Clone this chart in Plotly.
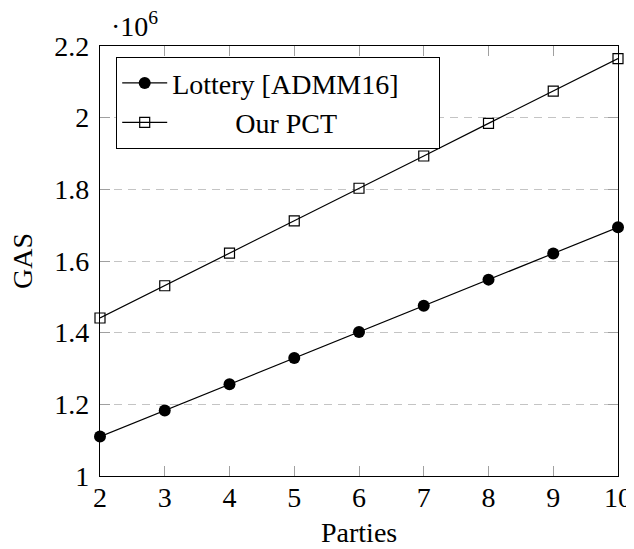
import plotly.graph_objects as go

parties = [2, 3, 4, 5, 6, 7, 8, 9, 10]
lottery_gas = [1.110, 1.183, 1.256, 1.329, 1.402, 1.475, 1.548, 1.621, 1.694]  # x10^6
pct_gas = [1.441, 1.531, 1.622, 1.712, 1.803, 1.893, 1.984, 2.074, 2.165]      # x10^6
series_names = ["Lottery [ADMM16]" + "\u00a0" * 5, "\u00a0" * 9 + "Our PCT"]
y_ticks = [1.0, 1.2, 1.4, 1.6, 1.8, 2.0, 2.2]
y_tick_labels = ["1", "1.2", "1.4", "1.6", "1.8", "2", "2.2"]
x_ticks = [2, 3, 4, 5, 6, 7, 8, 9, 10]

FONT = "'Liberation Serif', 'Times New Roman', Times, serif"
FS = 28

fig = go.Figure()
fig.add_trace(go.Scatter(
    x=parties, y=lottery_gas, name=series_names[0], mode="lines+markers",
    line=dict(color="black", width=1.2),
    marker=dict(symbol="circle", size=12, color="black"),
    cliponaxis=False,
))
fig.add_trace(go.Scatter(
    x=parties, y=pct_gas, name=series_names[1], mode="lines+markers",
    line=dict(color="black", width=1.2),
    marker=dict(symbol="square-open", size=10, color="black", line=dict(width=1.2)),
    cliponaxis=False,
))

# the page body has an 8px margin; work in page pixels and convert
OFF = 8
PAGE_W, PAGE_H = 634, 549
W, H = PAGE_W - OFF, PAGE_H - OFF
PL, PR, PT, PB = 100, 618, 46, 476          # plot area in page pixels
L, T = PL - OFF, PT - OFF
R, B = W - (PR - OFF), H - (PB - OFF)
pw, ph = PR - PL, PB - PT

def px(x):   # page x -> paper x
    return (x - PL) / pw

def py(y):   # page y -> paper y
    return (PB - y) / ph

fig.update_layout(
    width=W, height=H,
    margin=dict(l=L, r=R, t=T, b=B, pad=0, autoexpand=False),
    paper_bgcolor="white", plot_bgcolor="white",
    font=dict(family=FONT, size=FS, color="black"),
    showlegend=True,
    legend=dict(
        x=px(116), y=py(57), xanchor="left", yanchor="top",
        bgcolor="white", bordercolor="black", borderwidth=1.2,
        font=dict(family=FONT, size=FS, color="black"),
        itemwidth=45, tracegroupgap=0,
    ),
    xaxis=dict(
        range=[2, 10], tickvals=x_ticks, ticks="inside", ticklen=10,
        tickcolor="#a0a0a0", tickwidth=1, showline=True, linecolor="black",
        linewidth=1.2, mirror="ticks", showgrid=False, zeroline=False,
        tickfont=dict(family=FONT, size=FS), ticklabelstandoff=-4,
        automargin=False,
    ),
    yaxis=dict(
        range=[1.0, 2.2], tickvals=y_ticks, ticktext=y_tick_labels,
        ticks="inside", ticklen=10, tickcolor="#a0a0a0", tickwidth=1,
        showline=True, linecolor="black", linewidth=1.2, mirror="ticks",
        showgrid=True, gridcolor="#c4c4c4", gridwidth=1, griddash="8px,6px",
        zeroline=False, tickfont=dict(family=FONT, size=FS), ticklabelstandoff=4,
        automargin=False,
    ),
    annotations=[
        dict(text="GAS", textangle=-90, xref="paper", yref="paper",
             x=px(22), y=0.5, xanchor="center", yanchor="middle",
             showarrow=False, font=dict(family=FONT, size=FS)),
        dict(text="Parties", xref="paper", yref="paper",
             x=0.5, y=py(532), xanchor="center", yanchor="middle",
             showarrow=False, font=dict(family=FONT, size=FS)),
        dict(text="\u00b710<sup>6</sup>", xref="paper", yref="paper",
             x=px(109), y=py(24), xanchor="left", yanchor="middle",
             showarrow=False, font=dict(family=FONT, size=FS)),
    ],
)

fig.write_html("out.html")
